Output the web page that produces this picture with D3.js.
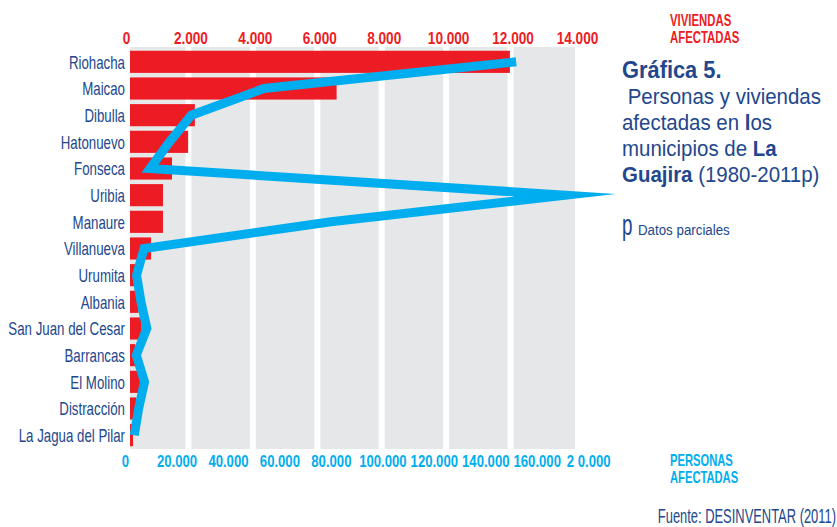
<!DOCTYPE html>
<html>
<head>
<meta charset="utf-8">
<script src="https://cdn.jsdelivr.net/npm/d3@7"></script>
<style>
  html, body { margin: 0; padding: 0; background: #fff; }
  svg { display: block; }
  text { font-family: "Liberation Sans", Arial, sans-serif; }
</style>
</head>
<body>
<svg id="chart" width="837" height="527"></svg>
<script>
// Municipios de La Guajira, 1980-2011 (p = datos parciales)
const municipios = ["Riohacha", "Maicao", "Dibulla", "Hatonuevo", "Fonseca", "Uribia", "Manaure",
  "Villanueva", "Urumita", "Albania", "San Juan del Cesar", "Barrancas", "El Molino",
  "Distracción", "La Jagua del Pilar"];
const viviendas = [11980, 6600, 2200, 1990, 1490, 1210, 1210, 840, 400, 450, 550, 350, 500, 380, 280];
const personas = [152000, 54000, 25800, 17300, 9700, 171000, 80000, 7400, 4500, 6200, 8500, 4400, 7600, 5300, 3600];

const viviendasTicks = [0, 2000, 4000, 6000, 8000, 10000, 12000, 14000];
const viviendasTickLabels = ["0", "2.000", "4.000", "6.000", "8.000", "10.000", "12.000", "14.000"];
const personasTicks = [0, 20000, 40000, 60000, 80000, 100000, 120000, 140000, 160000, 180000];
const personasTickLabels = ["0", "20.000", "40.000", "60.000", "80.000", "100.000", "120.000", "140.000", "160.000", "2 0.000"];

const RED = "#ed1c24", CYAN = "#00aeef", GREY = "#e6e7e8", NAVY = "#22478c";

const svg = d3.select("#chart");
const plot = { left: 130, right: 575, top: 47, bottom: 449 };

const xV = d3.scaleLinear().domain([0, 14000]).range([124, 575]);
const xP = d3.scaleLinear().domain([0, 180000]).range([125, 588.2]);
const y = d3.scaleBand().domain(municipios).range([48.5, 448.5]).paddingInner(0.17).paddingOuter(0.085);

// condensed lettering: squeeze text horizontally around its anchor point
function condensed(sel, x, yy, sx) {
  return sel.attr("x", 0).attr("y", 0).attr("transform", `translate(${x},${yy}) scale(${sx},1)`);
}

svg.append("defs").append("clipPath").attr("id", "plotClip")
  .append("rect").attr("x", plot.left).attr("y", 0).attr("width", plot.right - plot.left).attr("height", 527);

// grey panel with white gaps at each tick
svg.append("rect").attr("x", plot.left).attr("y", plot.top)
  .attr("width", plot.right - plot.left).attr("height", plot.bottom - plot.top).attr("fill", GREY);
svg.append("g").selectAll("line").data(viviendasTicks.slice(1, -1)).join("line")
  .attr("x1", d => xV(d)).attr("x2", d => xV(d))
  .attr("y1", plot.top).attr("y2", plot.bottom)
  .attr("stroke", "#fff").attr("stroke-width", 6);

// viviendas bars
svg.append("g").attr("clip-path", "url(#plotClip)").selectAll("rect")
  .data(municipios.map((m, i) => ({ m, v: viviendas[i] }))).join("rect")
  .attr("x", xV(0)).attr("y", d => y(d.m))
  .attr("width", d => xV(d.v) - xV(0)).attr("height", y.bandwidth())
  .attr("fill", RED);

// personas line
const line = d3.line().x(d => xP(d.p)).y(d => y(d.m) + y.bandwidth() / 2);
svg.append("path")
  .datum(municipios.map((m, i) => ({ m, p: personas[i] })))
  .attr("d", line).attr("fill", "none")
  .attr("stroke", CYAN).attr("stroke-width", 9)
  .attr("stroke-linejoin", "miter").attr("stroke-miterlimit", 20).attr("stroke-linecap", "butt");

// category labels
svg.append("g").selectAll("text").data(municipios).join("text")
  .each(function (d) { condensed(d3.select(this), 125, y(d) + y.bandwidth() / 2 + 6.8, 0.7); })
  .attr("text-anchor", "end").attr("font-size", 19).attr("fill", NAVY).text(d => d);

// top axis (viviendas)
const topAxis = d3.axisTop(xV).tickValues(viviendasTicks).tickSize(0)
  .tickFormat((d, i) => viviendasTickLabels[i]);
const gTop = svg.append("g").attr("transform", "translate(2,44)").call(topAxis);
gTop.select(".domain").remove();
gTop.selectAll("text").attr("dy", 0).attr("y", 0).attr("fill", RED)
  .attr("font-size", 17).attr("font-weight", "bold").attr("font-family", null)
  .attr("transform", "scale(0.8,1)");

// bottom axis (personas)
const botAxis = d3.axisBottom(xP).tickValues(personasTicks).tickSize(0)
  .tickFormat((d, i) => personasTickLabels[i]);
const gBot = svg.append("g").attr("transform", "translate(0,467)").call(botAxis);
gBot.select(".domain").remove();
gBot.selectAll("text").attr("dy", 0).attr("y", 0).attr("fill", CYAN)
  .attr("font-size", 16).attr("font-weight", "bold").attr("font-family", null)
  .attr("transform", "scale(0.82,1)");

// axis titles
const axisTitle = (lines, x, y0, color, fs, sx) => {
  const t = condensed(svg.append("text"), x, y0, sx).attr("fill", color)
    .attr("font-size", fs).attr("font-weight", "bold");
  lines.forEach((s, i) => t.append("tspan").attr("x", 0).attr("dy", i ? 17 : 0).text(s));
};
axisTitle(["VIVIENDAS", "AFECTADAS"], 670, 26, RED, 17, 0.67);
axisTitle(["PERSONAS", "AFECTADAS"], 670, 466, CYAN, 16, 0.7);

// title block
condensed(svg.append("text"), 622, 78, 0.95).attr("fill", NAVY)
  .attr("font-weight", "bold").attr("font-size", 23).text("Gráfica 5.");
const titleLine = (yy, parts) => {
  const t = condensed(svg.append("text"), 622, yy, 0.93).attr("fill", NAVY).attr("font-size", 22);
  parts.forEach(([s, bold]) => t.append("tspan").attr("font-weight", bold ? "bold" : null).text(s));
};
titleLine(104, [["\u00a0Personas y viviendas"]]);
titleLine(130, [["afectadas en "], ["l", true], ["os"]]);
titleLine(156, [["municipios de "], ["La", true]]);
titleLine(182, [["Guajira", true], [" (1980-2011p)"]]);

condensed(svg.append("text"), 622, 235, 0.65).attr("fill", NAVY).attr("font-size", 29).text("p");
condensed(svg.append("text"), 638, 235, 0.86).attr("fill", NAVY).attr("font-size", 15.5).text("Datos parciales");

condensed(svg.append("text"), 836, 523, 0.63).attr("text-anchor", "end")
  .attr("fill", NAVY).attr("font-size", 20.5).text("Fuente: DESINVENTAR (2011)");
</script>
</body>
</html>
